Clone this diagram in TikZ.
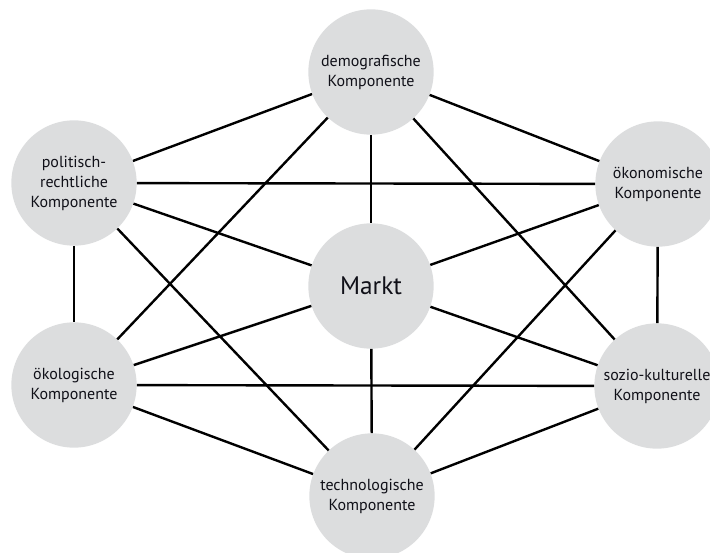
\documentclass[tikz,border=0pt]{standalone}
\usepackage{fontspec}
\setmainfont{PT Sans}
\usepackage{tikz}
\usetikzlibrary{positioning}
\definecolor{KreisGrey}{HTML}{DCDDDE}
\definecolor{TextDark}{HTML}{101018}
\tikzset{
  komp/.style={circle,fill=KreisGrey,minimum size=94pt,inner sep=0pt,align=center,
    text=TextDark,font=\fontsize{12}{15}\selectfont},
  verb/.style={line width=1.8pt,black}
}

\begin{document}
\begin{tikzpicture}[x=0.75pt,y=-0.75pt]
  \useasboundingbox (0,0) rectangle (710,553);
  \node[komp] (demo) at (371,72){demografische\\Komponente};
  \node[komp] (polit) at (74,183){politisch-\\rechtliche\\Komponente};
  \node[komp] (oekon) at (658,184){ökonomische\\Komponente};
  \node[komp,font=\fontsize{19}{22}\selectfont] (markt) at (371,286){Markt};
  \node[komp] (oekol) at (74,385){ökologische\\Komponente};
  \node[komp] (sozio) at (657,386){sozio-kulturelle\\Komponente};
  \node[komp] (tech) at (372,496){technologische\\Komponente};
  % Verbindungen
  \draw[verb] (demo) -- (polit);
  \draw[verb] (demo) -- (oekon);
  \draw[verb] (demo) -- (markt);
  \draw[verb] (demo) -- (oekol);
  \draw[verb] (demo) -- (sozio);
  \draw[verb] (polit) -- (oekon);
  \draw[verb] (polit) -- (markt);
  \draw[verb] (polit) -- (oekol);
  \draw[verb] (polit) -- (tech);
  \draw[verb] (oekon) -- (markt);
  \draw[verb] (oekon) -- (sozio);
  \draw[verb] (oekon) -- (tech);
  \draw[verb] (markt) -- (oekol);
  \draw[verb] (markt) -- (sozio);
  \draw[verb] (markt) -- (tech);
  \draw[verb] (oekol) -- (sozio);
  \draw[verb] (oekol) -- (tech);
  \draw[verb] (sozio) -- (tech);
\end{tikzpicture}
\end{document}
